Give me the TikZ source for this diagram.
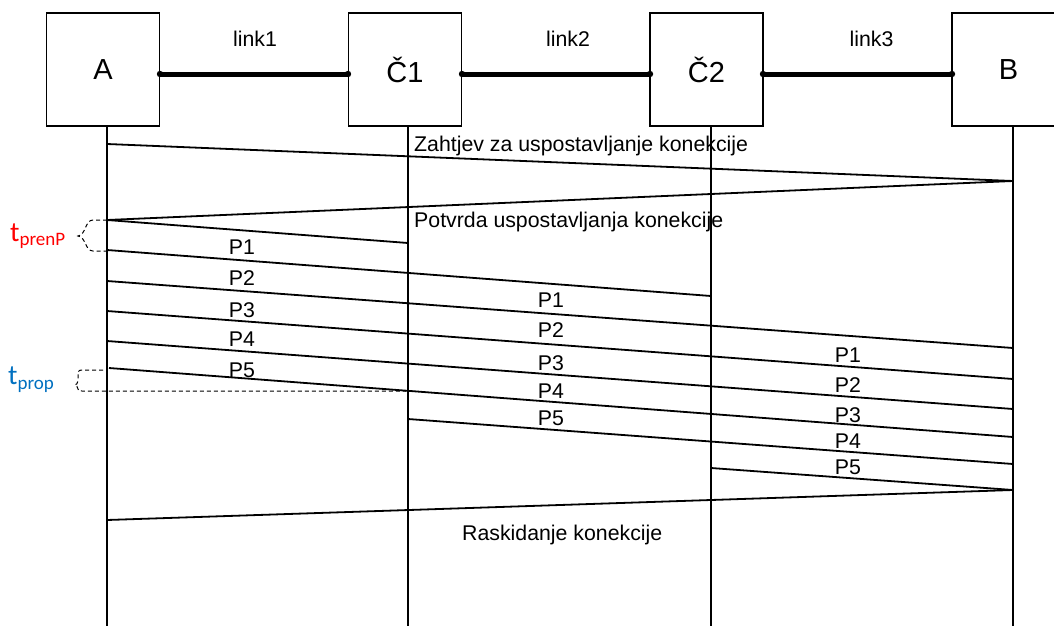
\documentclass[tikz,border=0pt]{standalone}
\usepackage{fontspec}
\setmainfont{Liberation Sans}
\newfontfamily\calfont{Carlito}
\definecolor{tred}{RGB}{255,0,0}
\definecolor{tblue}{RGB}{0,112,192}
\begin{document}
\begin{tikzpicture}[x=1pt,y=-1pt,
  box/.style={draw, line width=1.5pt, minimum width=113pt, minimum height=113pt, inner sep=0pt, font=\fontsize{29}{33}\selectfont},
  life/.style={line width=1.6pt},
  msg/.style={line width=1.8pt},
  linkline/.style={line width=5pt},
  lbl/.style={font=\fontsize{21.3}{25}\selectfont, inner sep=0pt},
  dotend/.style={fill=black},
  bracedash/.style={line width=1pt, dash pattern=on 4pt off 3pt},
]
\useasboundingbox (0,0) rectangle (1054,626);
\clip (0,0) rectangle (1054,626);

% boxes
\node[box] (A)  at (103,69.5)   {A};
\node[box] (C1) at (405,69.5)   {Č1};
\node[box] (C2) at (706.5,69.5) {Č2};
\node[box] (B)  at (1008.5,69.5){B};

% links
\coordinate (l1a) at (160,74); \coordinate (l1b) at (348,74);
\coordinate (l2a) at (462,74); \coordinate (l2b) at (650,74);
\coordinate (l3a) at (763,74); \coordinate (l3b) at (952,74);
\draw[linkline] (l1a) -- (l1b);
\draw[linkline] (l2a) -- (l2b);
\draw[linkline] (l3a) -- (l3b);
\foreach \p in {l1a,l1b,l2a,l2b,l3a,l3b} \fill[dotend] (\p) circle (3.2);
\node[lbl, anchor=base] (lk1) at (255,47) {link1};
\node[lbl, anchor=base] (lk2) at (568,47) {link2};
\node[lbl, anchor=base] (lk3) at (871.5,47) {link3};

% lifelines
\coordinate (At) at (107,126);  \coordinate (Ab) at (107,626);
\coordinate (C1t) at (408,126); \coordinate (C1b) at (408,626);
\coordinate (C2t) at (711,126); \coordinate (C2b) at (711,626);
\coordinate (Bt) at (1013,126); \coordinate (Bb) at (1013,626);
\draw[life] (At) -- (Ab);
\draw[life] (C1t) -- (C1b);
\draw[life] (C2t) -- (C2b);
\draw[life] (Bt) -- (Bb);

% message points
\coordinate (a1) at (107,144);
\coordinate (b1) at (1013,181);
\coordinate (a2) at (107,220);
\coordinate (c1a) at (408,243);
\coordinate (a3) at (107,250);
\coordinate (c2a) at (711,296);
\coordinate (a4) at (107,281);
\coordinate (b4) at (1013,348);
\coordinate (a5) at (107,311);
\coordinate (b5) at (1013,379);
\coordinate (a6) at (107,341);
\coordinate (b6) at (1013,409);
\coordinate (a7) at (109,368);
\coordinate (b7) at (1013,437);
\coordinate (c1b) at (408,419);
\coordinate (b8) at (1013,464);
\coordinate (c2b) at (711,468);
\coordinate (b9) at (1013,490);
\coordinate (a9) at (107,520);

\draw[msg] (a1) -- (b1);
\draw[msg] (b1) -- (a2);
\draw[msg] (a2) -- (c1a);
\draw[msg] (a3) -- (c2a);
\draw[msg] (a4) -- (b4);
\draw[msg] (a5) -- (b5);
\draw[msg] (a6) -- (b6);
\draw[msg] (a7) -- (b7);
\draw[msg] (c1b) -- (b8);
\draw[msg] (c2b) -- (b9);
\draw[msg] (b9) -- (a9);

% message labels
\node[lbl, anchor=base west] (zt) at (414,151) {Zahtjev za uspostavljanje konekcije};
\node[lbl, anchor=base west] (pt) at (414,227) {Potvrda uspostavljanja konekcije};
\node[lbl, anchor=base west] (rk) at (462,540) {Raskidanje konekcije};

\node[lbl, anchor=base] (p11) at (242,254) {P1};
\node[lbl, anchor=base] (p12) at (242,285) {P2};
\node[lbl, anchor=base] (p13) at (242,317) {P3};
\node[lbl, anchor=base] (p14) at (242,346) {P4};
\node[lbl, anchor=base] (p15) at (242,377) {P5};

\node[lbl, anchor=base] (p21) at (551,307) {P1};
\node[lbl, anchor=base] (p22) at (551,337) {P2};
\node[lbl, anchor=base] (p23) at (551,370) {P3};
\node[lbl, anchor=base] (p24) at (551,398) {P4};
\node[lbl, anchor=base] (p25) at (551,425) {P5};

\node[lbl, anchor=base] (p31) at (848,362) {P1};
\node[lbl, anchor=base] (p32) at (848,392) {P2};
\node[lbl, anchor=base] (p33) at (848,422) {P3};
\node[lbl, anchor=base] (p34) at (848,448) {P4};
\node[lbl, anchor=base] (p35) at (848,474) {P5};

% braces
\coordinate (bp1) at (107,220); \coordinate (bp2) at (107,251);
\draw[bracedash] (bp1) -- (93,220) .. controls (85,220) and (86,235) .. (78,236)
   .. controls (86,237) and (85,251) .. (93,251) -- (bp2);
\coordinate (bq1) at (103,370); \coordinate (bq2) at (406,391);
\draw[bracedash] (bq1) -- (82,370) .. controls (78,370) and (78,372) .. (78,376) -- (78,381)
   .. controls (78,383) and (76,385) .. (75,385)
   .. controls (76,385) and (78,387) .. (78,389)
   .. controls (78,391) and (79,391) .. (82,391) -- (bq2);

% time labels
\node[inner sep=0pt, anchor=base west, text=tred] (tp) at (10,241)
  {\calfont\fontsize{28}{30}\selectfont t\raisebox{-4pt}{\fontsize{19}{20}\selectfont prenP}};
\node[inner sep=0pt, anchor=base west, text=tblue] (tq) at (8,384)
  {\calfont\fontsize{28}{30}\selectfont t\raisebox{-5pt}{\fontsize{19}{20}\selectfont prop}};
\end{tikzpicture}
\end{document}
